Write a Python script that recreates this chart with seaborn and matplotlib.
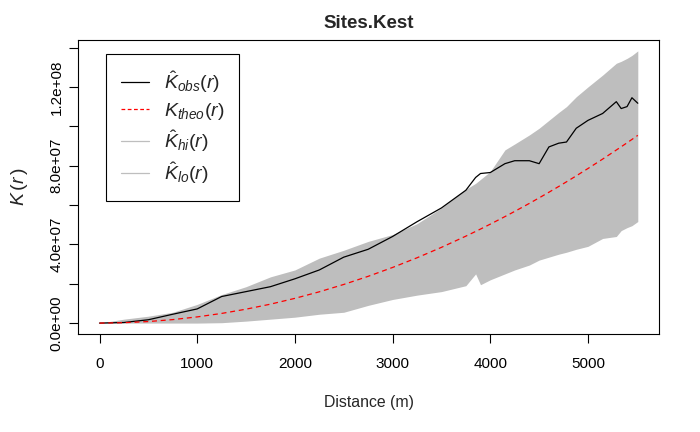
import numpy as np
import pandas as pd
import seaborn as sns
import matplotlib.pyplot as plt
from matplotlib.lines import Line2D

# distance r (m) and the K-function curves (units of 1e7)
r = [0, 250, 500, 750, 1000, 1250, 1500, 1750, 2000, 2250, 2500, 2750, 3000,
     3250, 3500, 3750, 3850, 3900, 4000, 4150, 4250, 4400, 4500, 4600, 4700,
     4780, 4880, 5000, 5150, 5290, 5340, 5400, 5450, 5510]
k_obs = [0, 0.03, 0.17, 0.45, 0.72, 1.35, 1.6, 1.85, 2.25, 2.7, 3.35, 3.75, 4.4,
         5.15, 5.85, 6.75, 7.4, 7.6, 7.65, 8.1, 8.25, 8.25, 8.1, 8.95, 9.14,
         9.2, 9.9, 10.3, 10.65, 11.25, 10.9, 11.0, 11.45, 11.17]
k_theo = [0, 0.0196, 0.0785, 0.177, 0.314, 0.491, 0.707, 0.962, 1.257, 1.59,
          1.963, 2.376, 2.827, 3.318, 3.848, 4.418, 4.657, 4.778, 5.027, 5.411,
          5.675, 6.082, 6.362, 6.648, 6.94, 7.178, 7.481, 7.854, 8.332, 8.793,
          8.958, 9.161, 9.331, 9.538]
k_hi = [0, 0.2, 0.35, 0.55, 0.95, 1.45, 1.85, 2.35, 2.7, 3.3, 3.7, 4.15, 4.5,
        5.05, 5.85, 6.8, 7.1, 7.3, 7.7, 8.8, 9.1, 9.56, 9.9, 10.3, 10.7,
        11.0, 11.5, 12.0, 12.6, 13.2, 13.3, 13.45, 13.6, 13.83]
k_lo = [0, 0, 0, 0, 0, 0.02, 0.1, 0.2, 0.3, 0.45, 0.55, 0.9, 1.2,
        1.42, 1.6, 1.9, 2.5, 1.95, 2.2, 2.5, 2.7, 2.95, 3.2, 3.35, 3.5,
        3.6, 3.75, 3.9, 4.3, 4.4, 4.7, 4.85, 4.95, 5.16]

df = pd.DataFrame({'r': r, 'obs': k_obs, 'theo': k_theo, 'hi': k_hi, 'lo': k_lo})
for col in ['obs', 'theo', 'hi', 'lo']:
    df[col] = df[col] * 1e7

sns.set_style('ticks')
plt.rcParams['font.family'] = ['Liberation Sans', 'DejaVu Sans']
plt.rcParams['mathtext.fontset'] = 'custom'
plt.rcParams['mathtext.rm'] = 'Liberation Sans'
plt.rcParams['mathtext.it'] = 'Liberation Sans:italic'

fig = plt.figure(figsize=(7, 4.32), dpi=100)
ax = fig.add_axes([0.1114, 0.2269, 0.8305, 0.6805])

# envelope band
ax.fill_between(df['r'], df['lo'], df['hi'], color='#bebebe', linewidth=0)
sns.lineplot(data=df, x='r', y='obs', color='black', linewidth=0.9, ax=ax)
sns.lineplot(data=df, x='r', y='theo', color='red', linewidth=0.9,
             linestyle=(0, (4, 3)), ax=ax)

rmax = df['r'].max()
ymax = df['hi'].max()
ax.set_xlim(-0.04 * rmax, 1.04 * rmax)
ax.set_ylim(-0.04 * ymax, 1.04 * ymax)

ax.set_xticks([0, 1000, 2000, 3000, 4000, 5000])
yt = np.arange(0, 1.41e8, 2e7)
ax.set_yticks(yt)
ax.set_yticklabels(['0.0e+00', '', '4.0e+07', '', '8.0e+07', '', '1.2e+08', ''],
                   rotation=90, va='center')
ax.tick_params(axis='both', direction='out', length=6.5, width=0.8,
               labelsize=11, colors='black')
ax.tick_params(axis='x', pad=10)
ax.tick_params(axis='y', pad=4)
for s in ax.spines.values():
    s.set_visible(True)
    s.set_linewidth(0.8)
    s.set_color('black')

ax.set_xlabel('Distance (m)', fontsize=11.4, labelpad=17)
ax.set_ylabel(r'$K\,(r\,)$', fontsize=14, labelpad=14)
ax.set_title('Sites.Kest', fontsize=13.5, fontweight='bold', pad=9)

handles = [Line2D([], [], color='black', lw=0.9),
           Line2D([], [], color='red', lw=0.9, linestyle=(0, (3, 2))),
           Line2D([], [], color='#bebebe', lw=0.9),
           Line2D([], [], color='#bebebe', lw=0.9)]
labels = [r'$\hat{K}_{obs}(r)$', r'$K_{theo}(r)$', r'$\hat{K}_{hi}(r)$', r'$\hat{K}_{lo}(r)$']
leg = ax.legend(handles, labels, loc='upper left', bbox_to_anchor=(0.049, 0.952),
                fontsize=14, frameon=True, fancybox=False, edgecolor='black',
                framealpha=1, handlelength=1.45, handletextpad=0.75,
                borderpad=0.75, labelspacing=0.32, borderaxespad=0)
leg.get_frame().set_linewidth(0.8)

plt.savefig('out.png', dpi=100)
